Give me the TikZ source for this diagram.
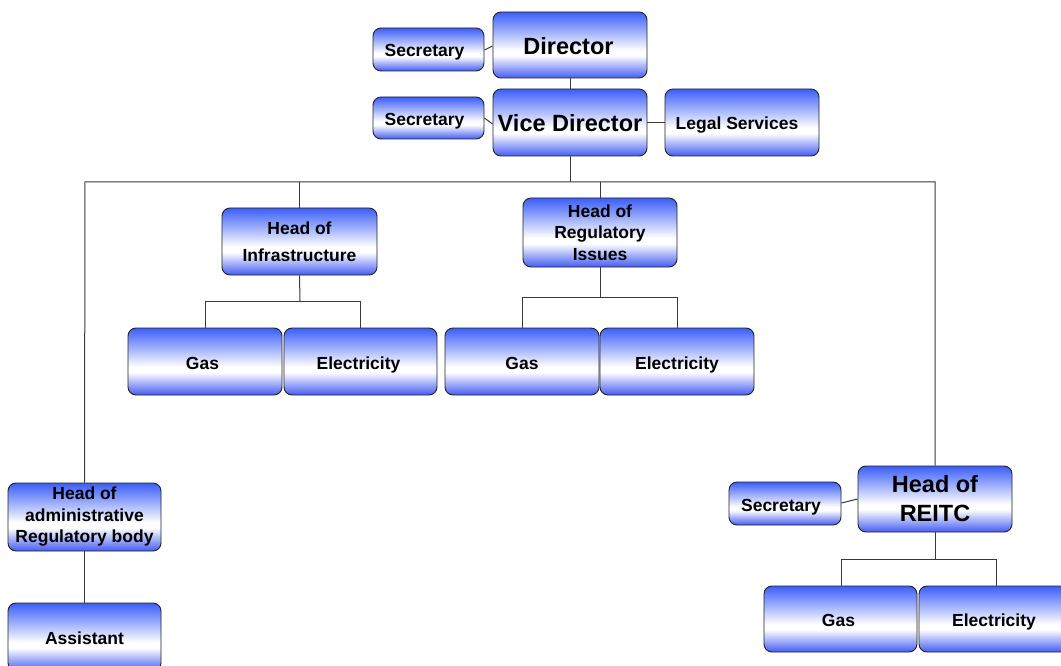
\documentclass[tikz,border=0pt]{standalone}
\usepackage{fontspec}
\setmainfont{Liberation Sans}
\definecolor{bblue}{RGB}{60,94,248}
\definecolor{bblueb}{RGB}{68,92,242}
\definecolor{edge}{RGB}{35,35,35}
\pgfdeclareverticalshading{boxshade}{100bp}{color(0bp)=(bblueb); color(25bp)=(bblueb); color(42bp)=(white); color(46bp)=(white); color(75bp)=(bblue); color(100bp)=(bblue)}
\tikzset{
  box/.style={draw=edge, line width=0.9pt, rounded corners=8pt, shading=boxshade, align=center, inner sep=0pt, font=\fontsize{17.5}{21.5}\selectfont\bfseries},
  one/.style={box, text height=15pt, text depth=0pt},
  bigone/.style={box, font=\fontsize{23.5}{29}\selectfont\bfseries, text height=19pt, text depth=0pt},
  bigbox/.style={box, font=\fontsize{23.5}{29}\selectfont\bfseries},
  widebox/.style={box, font=\fontsize{17.5}{27}\selectfont\bfseries},
  link/.style={draw=edge!90, line width=1pt}
}
\newcommand{\bx}[6]{\node[#1, minimum width=#4pt-#2pt, minimum height=#5pt-#3pt] (#6) at ({(#2+#4)/2},{(#3+#5)/2})}
\begin{document}
\begin{tikzpicture}[x=1pt,y=-1pt]
\useasboundingbox (0,0) rectangle (1061,666);
\clip (0,0) rectangle (1061,666);
\fill[white] (0,0) rectangle (1061,666);
% nodes
\bx{bigone}{493}{12}{647}{78}{dir} {\hspace*{-3pt}Director};
\bx{one}{373}{28}{484}{71}{sec1} {\hspace*{-8pt}Secretary};
\bx{bigone}{493}{89}{647}{156}{vice} {Vice Director};
\bx{one}{373}{97}{484}{139}{sec2} {\hspace*{-8pt}Secretary};
\bx{one}{665}{89}{819}{156}{legal} {\hspace*{-10pt}Legal Services};
\bx{widebox}{222}{208}{377}{275}{infra} {Head of\\Infrastructure};
\bx{box}{523}{198}{677}{267}{reg} {Head of\\Regulatory\\Issues};
\bx{one}{128}{328}{282}{395}{gas1} {\hspace*{-5pt}Gas};
\bx{one}{284}{328}{437}{395}{el1} {\hspace*{-4pt}Electricity};
\bx{one}{445}{328}{599}{395}{gas2} {Gas};
\bx{one}{600}{328}{754}{395}{el2} {Electricity};
\bx{box}{8}{483}{161}{551}{adm} {Head of\\administrative\\Regulatory body};
\bx{one}{8}{603}{161}{671}{asst} {Assistant};
\bx{bigbox}{858}{466}{1012}{532}{reitc} {Head of\\REITC};
\bx{one}{729}{482}{841}{525}{sec3} {\hspace*{-8pt}Secretary};
\bx{one}{764}{586}{917}{652}{gas3} {\hspace*{-4pt}Gas};
\bx{one}{919}{586}{1073}{652}{el3} {\hspace*{-4pt}Electricity};
% connectors
\coordinate (bus) at (570,182);
\coordinate (busL) at (85,182);
\coordinate (busR) at (935,182);
\draw[link] (dir.south) -- (vice.north);
\draw[link] (sec1.east |- 0,50) -- (dir.west |- 0,46);
\draw[link] (sec2.east |- 0,118) -- (vice.west |- 0,124);
\draw[link] (vice.east) -- (legal.west);
\draw[link] (vice.south) -- (bus);
\draw[link] (adm.north) -- (busL) -- (busR) -- (reitc.north);
\draw[link] (infra.north) -- (infra.north |- bus);
\draw[link] (reg.north) -- (reg.north |- bus);
\coordinate (j1) at (300,301);
\draw[link] (infra.south) -- (j1);
\draw[link] (j1 -| 205,0) -- (j1 -| 360,0);
\draw[link] (gas1.north -| 205,0) -- (j1 -| 205,0);
\draw[link] (el1.north -| 360,0) -- (j1 -| 360,0);
\coordinate (j2) at (600,297);
\draw[link] (reg.south) -- (j2);
\draw[link] (j2 -| 522,0) -- (j2 -| 677,0);
\draw[link] (gas2.north -| 522,0) -- (j2 -| 522,0);
\draw[link] (el2.north -| 677,0) -- (j2 -| 677,0);
\draw[link] (adm.south) -- (asst.north);
\coordinate (j3) at (935,559);
\draw[link] (reitc.south) -- (j3);
\draw[link] (j3 -| 841,0) -- (j3 -| 996,0);
\draw[link] (gas3.north -| 841,0) -- (j3 -| 841,0);
\draw[link] (el3.north -| 996,0) -- (j3 -| 996,0);
\draw[link] (sec3.east |- 0,503) -- (reitc.west |- 0,499);
\end{tikzpicture}
\end{document}
